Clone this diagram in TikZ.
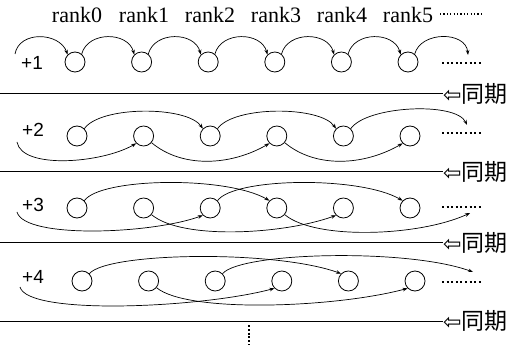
\documentclass[tikz,border=0pt]{standalone}
\usepackage{fontspec}
\setmainfont{Liberation Serif}
\newfontfamily\plusfont{Liberation Sans}
\newfontfamily\cjkfont{Noto Sans CJK JP}
\newfontfamily\symfont{DejaVu Sans}
\usetikzlibrary{arrows.meta}
\begin{document}
\begin{tikzpicture}[x=1pt,y=1pt,
  proc/.style={circle,draw,line width=0.8pt,minimum size=20pt,inner sep=0pt},
  msg/.style={line width=0.7pt,-{Stealth[length=5pt,width=3.6pt]}},
  rankl/.style={font=\fontsize{22}{22}\selectfont},
  stepl/.style={font=\plusfont\fontsize{19}{19}\selectfont},
  syncl/.style={anchor=west,inner sep=0pt,font=\fontsize{23}{23}\selectfont},
  syncline/.style={line width=1pt},
  more/.style={line width=2pt,dash pattern=on 2pt off 2.6pt}]
\useasboundingbox (0,0) rectangle (510,345);

% rank headers
\foreach \x/\n in {77/0,144/1,210/2,276/3,342/4,408/5}
  \node[rankl] (r\n) at (\x,330) {rank\n};
\coordinate (rd0) at (440,331);
\coordinate (rd1) at (483,331);
\draw[line width=1.1pt,dash pattern=on 1.1pt off 2.3pt] (rd0) -- (rd1);

% process circles, one row per step
\foreach \r/\y/\xo in {1/283/75,2/209/77,3/137/77,4/64/82}
  \foreach \c in {0,...,5}
    \node[proc] (n\r\c) at ({\xo+66.6*\c},\y) {};

% step labels
\node[stepl] (p1) at (32,282) {+1};
\node[stepl] (p2) at (33,215) {+2};
\node[stepl] (p3) at (33,140) {+3};
\node[stepl] (p4) at (33,68) {+4};

% trailing dots of each row
\foreach \r/\y in {1/282,2/212,3/138,4/63}{
  \coordinate (d\r a) at (442,\y);
  \coordinate (d\r b) at (483,\y);
  \draw[more] (d\r a) -- (d\r b);
}

% free ends of messages
\coordinate (s1) at (15,291);
\coordinate (e1) at (468,290);
\coordinate (e2) at (467,220);
\coordinate (s2) at (17,203);
\coordinate (s3) at (17,133);
\coordinate (e3) at (470,132);
\coordinate (s4) at (20,58);
\coordinate (e4) at (473,73);

% step +1
\draw[msg] (s1) .. controls +(80:24) and +(110:24) .. (n10.135);
\foreach \a/\b in {0/1,1/2,2/3,3/4,4/5}
  \draw[msg] (n1\a.50) .. controls +(75:24) and +(105:24) .. (n1\b.135);
\draw[msg] (n15.50) .. controls +(75:24) and +(95:24) .. (e1);

% step +2
\draw[msg] (n20.45) .. controls +(55:28) and +(125:28) .. (n22.135);
\draw[msg] (n22.45) .. controls +(55:28) and +(125:28) .. (n24.135);
\draw[msg] (n24.45) .. controls +(55:28) and +(115:26) .. (e2);
\draw[msg] (s2) .. controls +(-80:28) and +(-150:40) .. (n21.225);
\draw[msg] (n21.-40) .. controls +(-40:40) and +(-150:45) .. (n23.225);
\draw[msg] (n23.-40) .. controls +(-40:40) and +(-150:45) .. (n25.225);

% step +3
\draw[msg] (n30.45) .. controls +(55:28) and +(150:50) .. (n33.135);
\draw[msg] (n32.45) .. controls +(55:28) and +(150:50) .. (n35.135);
\draw[msg] (s3) .. controls +(-75:28) and +(-160:55) .. (n32.225);
\draw[msg] (n31.-40) .. controls +(-40:40) and +(-160:55) .. (n34.225);
\draw[msg] (n33.-40) .. controls +(-40:40) and +(-155:55) .. (e3);

% step +4
\draw[msg] (n40.45) .. controls +(50:28) and +(160:70) .. (n44.135);
\draw[msg] (n42.45) .. controls +(50:28) and +(160:70) .. (e4);
\draw[msg] (s4) .. controls +(-75:30) and +(-165:75) .. (n43.225);
\draw[msg] (n41.-40) .. controls +(-40:40) and +(-165:75) .. (n45.225);

% synchronisation barriers
\foreach \k/\y in {1/251,2/173,3/102,4/24}{
  \node[syncl] (sy\k) at (443,\y) {{\symfont\fontsize{22}{22}\selectfont ⇦}\cjkfont 同期};
  \coordinate (sl\k) at (0,\y);
  \draw[syncline] (sl\k) -- (sy\k.west);
}

% continuation below
\coordinate (v0) at (249,20);
\coordinate (v1) at (249,0);
\draw[line width=2pt,dash pattern=on 2pt off 1.8pt] (v0) -- (v1);
\end{tikzpicture}
\end{document}
